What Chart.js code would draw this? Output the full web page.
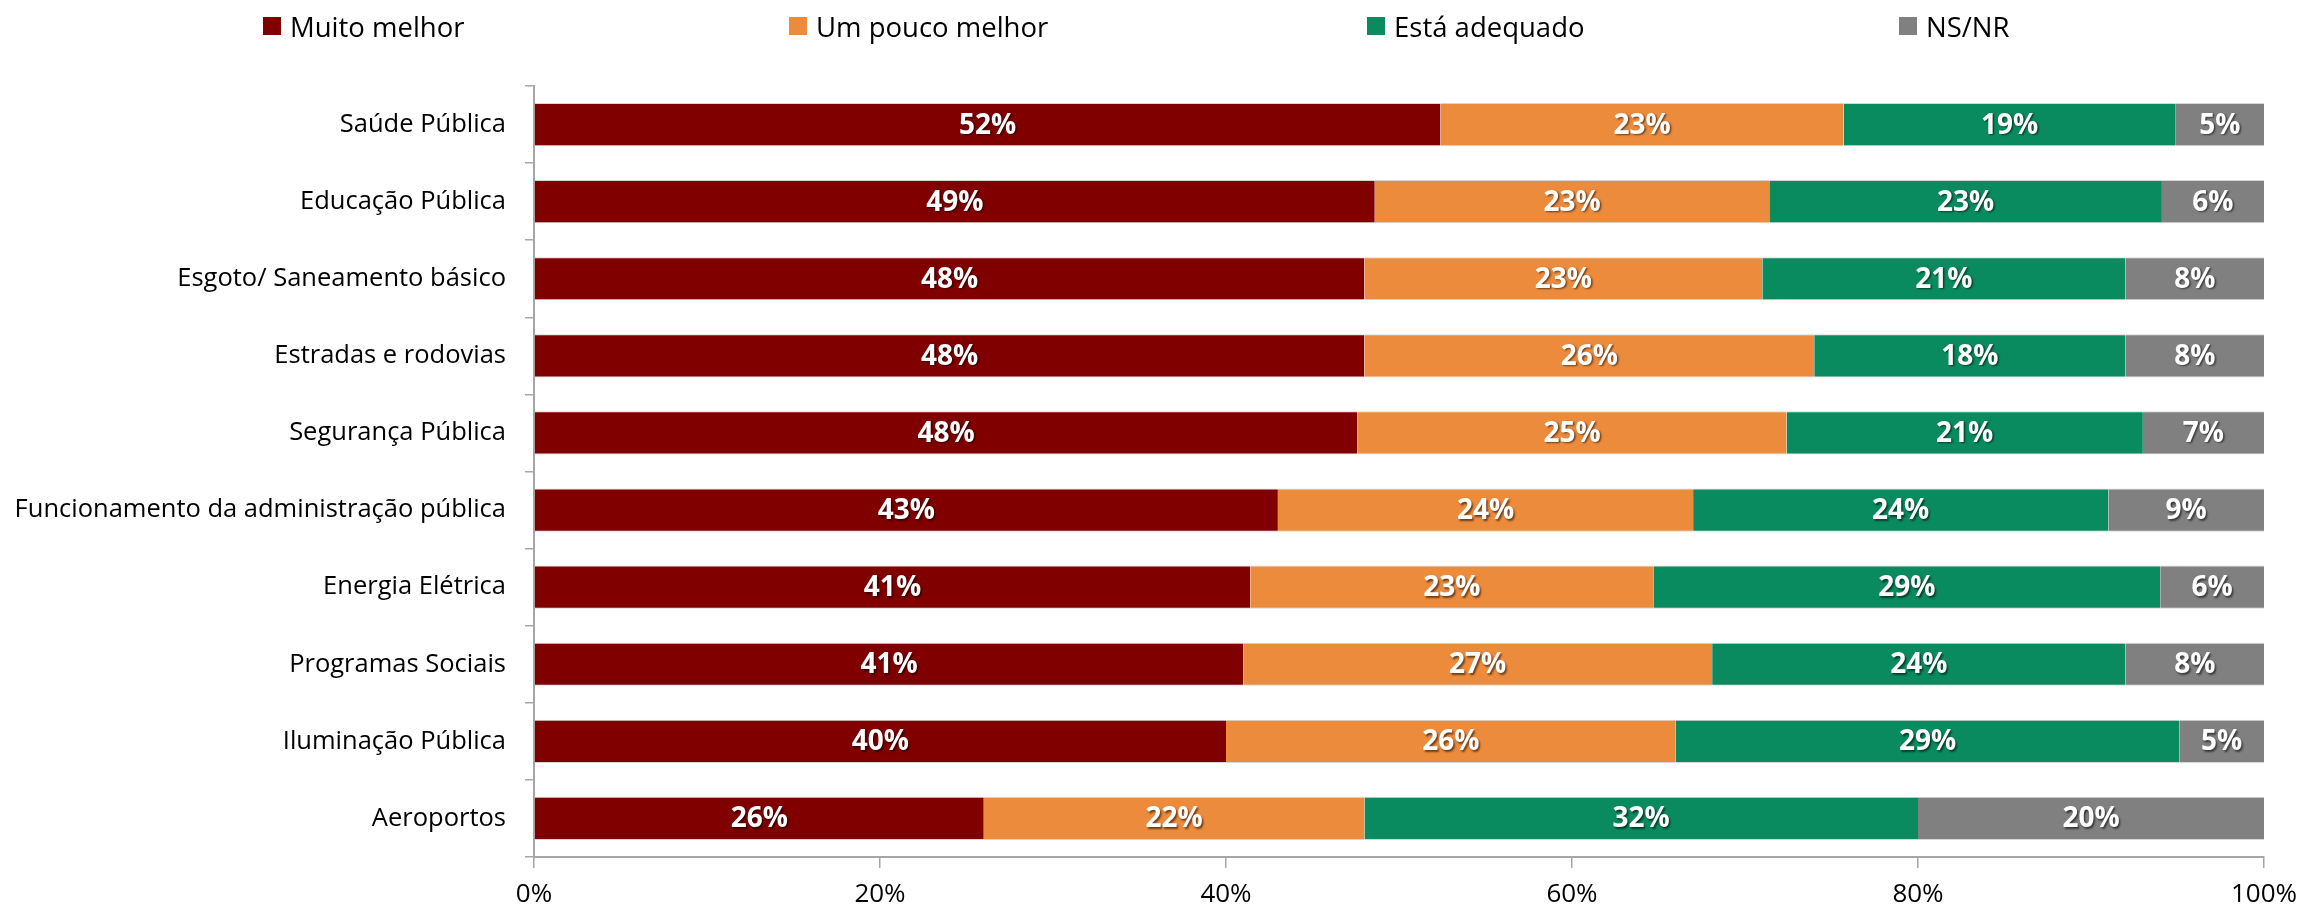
<!DOCTYPE html>
<html>
<head>
<meta charset="utf-8">
<script src="https://cdn.jsdelivr.net/npm/chart.js@4/dist/chart.umd.min.js"></script>
<style>
    body { margin: 0; background: #fff; font-family: "Open Sans", sans-serif; }
    #wrap { position: relative; width: 2305px; height: 912px; }
    #legend { position: absolute; top: 6px; left: 0; height: 40px; width: 100%; }
    .item { position: absolute; top: 0; display: flex; align-items: center; font-size: 27.5px; color: #000; height: 40px; }
    .item span.box { width: 18px; height: 18px; margin-right: 9px; display: inline-block; }
</style>
</head>
<body>
<div id="wrap">
    <div id="legend"></div>
    <canvas id="chart"></canvas>
</div>
<script>
const categories = [
    "Saúde Pública",
    "Educação Pública",
    "Esgoto/ Saneamento básico",
    "Estradas e rodovias",
    "Segurança Pública",
    "Funcionamento da administração pública",
    "Energia Elétrica",
    "Programas Sociais",
    "Iluminação Pública",
    "Aeroportos"
];
const seriesNames = ["Muito melhor", "Um pouco melhor", "Está adequado", "NS/NR"];
const seriesColors = ["#800000", "#ED8B3C", "#098B5F", "#808080"];

const muitoMelhor   = [52.4, 48.6, 48.0, 48.0, 47.6, 43.0, 41.4, 41.0, 40.0, 26.0];
const umPoucoMelhor = [23.3, 22.8, 23.0, 26.0, 24.8, 24.0, 23.3, 27.1, 26.0, 22.0];
const estaAdequado  = [19.2, 22.7, 21.0, 18.0, 20.6, 24.0, 29.3, 23.9, 29.1, 32.0];
const nsnr          = [5.1, 5.9, 8.0, 8.0, 7.0, 9.0, 6.0, 8.0, 4.9, 20.0];

const xTicks = [0, 20, 40, 60, 80, 100];

// legend drawn as html, item start positions
const legendLeft = [263, 789, 1367, 1899];
const legendEl = document.getElementById("legend");
seriesNames.forEach((name, i) => {
    const d = document.createElement("div");
    d.className = "item";
    d.style.left = legendLeft[i] + "px";
    d.innerHTML = '<span class="box" style="background:' + seriesColors[i] + '"></span>' + name;
    legendEl.appendChild(d);
});

const allSeries = [muitoMelhor, umPoucoMelhor, estaAdequado, nsnr];

// white value labels in the middle of each segment
const barLabels = {
    id: "barLabels",
    afterDatasetsDraw(chart) {
        const ctx = chart.ctx;
        ctx.save();
        ctx.font = "bold 28px 'Open Sans'";
        ctx.fillStyle = "#fff";
        ctx.textAlign = "center";
        ctx.textBaseline = "middle";
        ctx.shadowColor = "rgba(0,0,0,0.55)";
        ctx.shadowOffsetX = 1.5;
        ctx.shadowOffsetY = 1.5;
        ctx.shadowBlur = 2;
        chart.data.datasets.forEach((ds, di) => {
            const meta = chart.getDatasetMeta(di);
            meta.data.forEach((el, i) => {
                const v = ds.data[i];
                const x = (el.x + el.base) / 2;
                ctx.fillText(Math.round(v) + "%", x, el.y + 1);
            });
        });
        ctx.restore();
    }
};

const ctx = document.getElementById("chart").getContext("2d");
const chart = new Chart(ctx, {
    type: "bar",
    data: {
        labels: categories,
        datasets: allSeries.map((vals, i) => ({
            label: seriesNames[i],
            data: vals,
            backgroundColor: seriesColors[i],
            borderColor: "#d6d6d6",
            borderWidth: { top: 1, bottom: 1, left: 0, right: 0 },
            borderSkipped: false,
            barPercentage: 0.56,
            categoryPercentage: 1
        }))
    },
    options: {
        indexAxis: "y",
        responsive: true,
        maintainAspectRatio: false,
        animation: false,
        layout: { padding: { top: 86, right: 41, bottom: 0, left: 0 } },
        plugins: {
            legend: { display: false },
            tooltip: { enabled: false }
        },
        scales: {
            x: {
                stacked: true,
                min: 0,
                max: 100,
                afterBuildTicks: (scale) => { scale.ticks = xTicks.map(v => ({ value: v })); },
                afterFit: (scale) => { scale.height = 55; scale.paddingRight = 0; },
                ticks: {
                    callback: (v) => v + "%",
                    color: "#000",
                    font: { family: "'Open Sans'", size: 26 },
                    padding: 11,
                    maxRotation: 0
                },
                grid: {
                    drawOnChartArea: false,
                    drawTicks: true,
                    tickLength: 11,
                    color: "#a6a6a6",
                    lineWidth: 1.5
                },
                border: { color: "#a6a6a6", width: 2 }
            },
            y: {
                stacked: true,
                afterFit: (scale) => { scale.width = 534; },
                ticks: {
                    color: "#000",
                    font: { family: "'Open Sans'", size: 25.5 },
                    padding: 19
                },
                grid: {
                    offset: true,
                    drawOnChartArea: false,
                    drawTicks: true,
                    tickLength: 9,
                    color: "#a6a6a6",
                    lineWidth: 1.5
                },
                border: { color: "#a6a6a6", width: 2 }
            }
        }
    },
    plugins: [barLabels]
});
</script>
</body>
</html>
